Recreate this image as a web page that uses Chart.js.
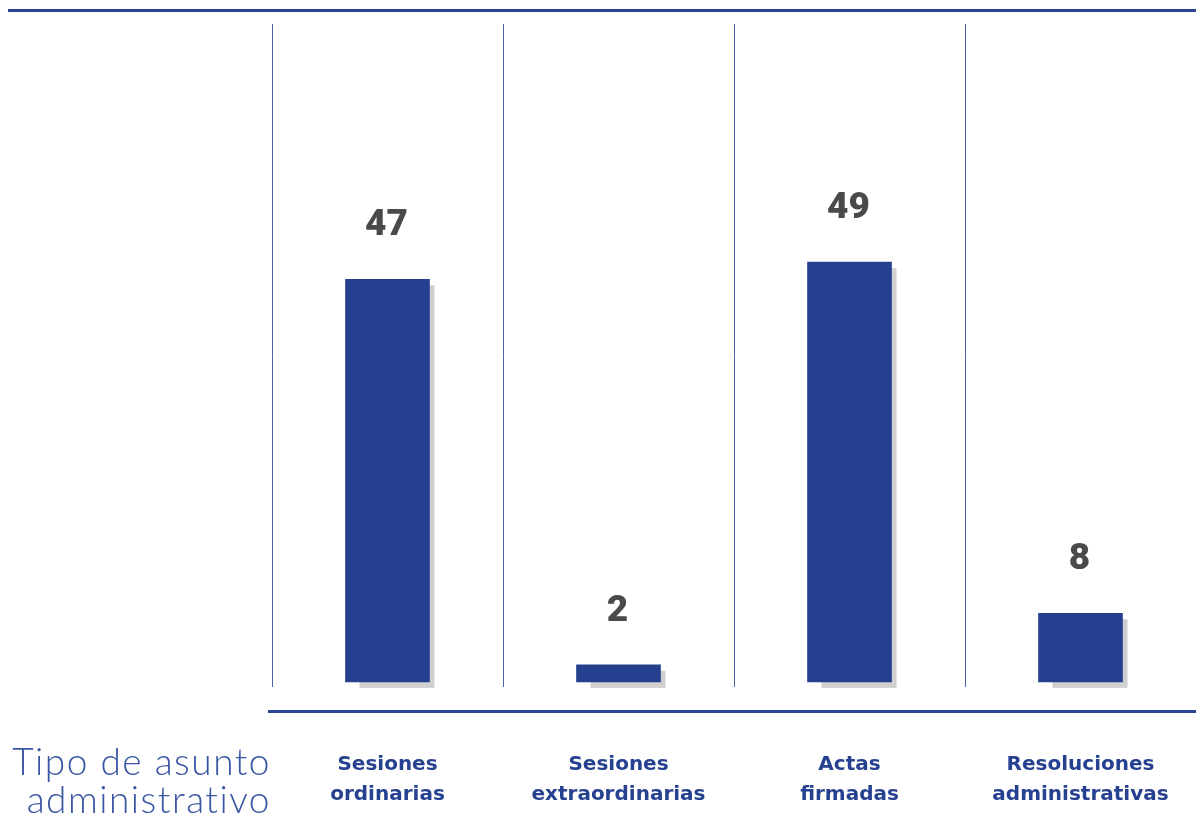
<!DOCTYPE html>
<html>
<head>
<meta charset="utf-8">
<script src="https://cdn.jsdelivr.net/npm/chart.js@4.4.0/dist/chart.umd.min.js"></script>
<style>
  html, body { margin: 0; padding: 0; background: #fff; }
  #wrap { width: 1196px; height: 840px; position: relative; }
</style>
</head>
<body>
<div id="wrap"><canvas id="chart" width="1196" height="840"></canvas></div>
<script>
const categories = [
  ['Sesiones', 'ordinarias'],
  ['Sesiones', 'extraordinarias'],
  ['Actas', 'firmadas'],
  ['Resoluciones', 'administrativas']
];
const values = [47, 2, 49, 8];
const axisTitle = ['Tipo de asunto', 'administrativo'];

const BLUE   = '#25408f';
const SHADOW = '#d0d0d0';

// grey drop shadow behind each bar, taken from the bar elements
const shadowPlugin = {
  id: 'shadow',
  beforeDatasetsDraw(chart) {
    const ctx = chart.ctx;
    ctx.save();
    ctx.fillStyle = SHADOW;
    chart.getDatasetMeta(0).data.forEach(bar => {
      const l = bar.x - bar.width / 2 + 14;
      const r = bar.x + bar.width / 2 + 5;
      ctx.fillRect(l, bar.y + 6, r - l, bar.base - bar.y);
    });
    ctx.restore();
  }
};

// value labels, rules and left title
const decoPlugin = {
  id: 'deco',
  afterDraw(chart) {
    const ctx = chart.ctx;
    const area = chart.chartArea;
    ctx.save();
    ctx.fillStyle = '#2a4494';
    ctx.fillRect(8, 9, chart.width - 8, 3);
    ctx.fillRect(area.left - 4, 710, chart.width - area.left + 4, 3);

    ctx.fillStyle = '#4a4a4a';
    ctx.font = "900 37px 'Roboto'";
    ctx.textAlign = 'center';
    ctx.textBaseline = 'alphabetic';
    chart.getDatasetMeta(0).data.forEach((bar, i) => {
      ctx.fillText(String(values[i]), bar.x - 1, bar.y - 44);
    });

    ctx.fillStyle = '#3a56a3';
    ctx.font = "300 37px 'Lato'";
    ctx.letterSpacing = '1.5px';
    ctx.textAlign = 'right';
    ctx.fillText(axisTitle[0], 271, 775);
    ctx.fillText(axisTitle[1], 271, 813);
    ctx.restore();
  }
};

new Chart(document.getElementById('chart'), {
  type: 'bar',
  data: {
    labels: categories,
    datasets: [{
      data: values,
      backgroundColor: BLUE,
      borderWidth: 0,
      barThickness: 84
    }]
  },
  options: {
    responsive: false,
    animation: false,
    layout: { padding: { left: 272, top: 24, right: 0, bottom: 30 } },
    plugins: { legend: { display: false }, tooltip: { enabled: false } },
    scales: {
      x: {
        offset: true,
        grid: {
          offset: true,
          drawTicks: false,
          lineWidth: 1,
          color: ctx => ctx.index === 4 ? 'rgba(0,0,0,0)' : '#4a61ab'
        },
        border: { display: false },
        ticks: {
          padding: 63,
          maxRotation: 0,
          color: '#26418f',
          font: { family: "'DejaVu Sans'", size: 20, weight: 'bold', lineHeight: 1.5 }
        },
        afterFit: s => { s.height = 123; s.paddingLeft = 0; s.paddingRight = 0; }
      },
      y: {
        display: false,
        min: -0.6,
        max: 76.8
      }
    }
  },
  plugins: [shadowPlugin, decoPlugin]
});
</script>
</body>
</html>
